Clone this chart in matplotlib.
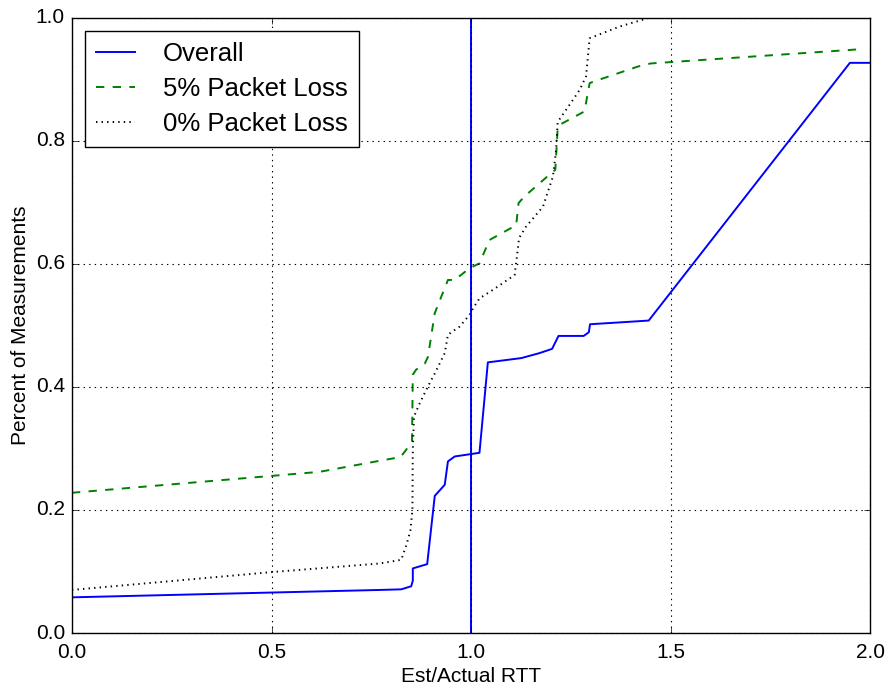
import matplotlib
matplotlib.use("Agg")
import matplotlib.pyplot as plt

plt.style.use('classic')
plt.rcParams['font.family'] = ['Liberation Sans', 'DejaVu Sans']

overall_x = [0.0, 0.771, 0.825, 0.850, 0.854, 0.854, 0.890, 0.909, 0.934, 0.942, 0.959,
             1.021, 1.042, 1.126, 1.171, 1.203, 1.219, 1.282, 1.295, 1.298, 1.397, 1.445,
             1.949, 2.0]
overall_y = [0.058, 0.070, 0.071, 0.076, 0.085, 0.105, 0.112, 0.223, 0.241, 0.279, 0.287,
             0.293, 0.440, 0.447, 0.455, 0.462, 0.483, 0.483, 0.489, 0.502, 0.506, 0.508,
             0.927, 0.927]

loss5_x = [0.0, 0.62, 0.771, 0.823, 0.834, 0.852, 0.854, 0.862, 0.884, 0.892, 0.909, 0.942,
           0.959, 0.996, 1.021, 1.046, 1.113, 1.119, 1.134, 1.196, 1.211, 1.217, 1.221,
           1.284, 1.297, 1.309, 1.418, 1.45, 1.972]
loss5_y = [0.228, 0.262, 0.280, 0.286, 0.295, 0.311, 0.420, 0.428, 0.438, 0.449, 0.520, 0.574,
           0.574, 0.593, 0.601, 0.639, 0.663, 0.699, 0.710, 0.745, 0.753, 0.821, 0.826,
           0.848, 0.894, 0.897, 0.921, 0.926, 0.949]

loss0_x = [0.0, 0.5, 0.771, 0.825, 0.838, 0.848, 0.853, 0.854, 0.857, 0.871, 0.892, 0.909,
           0.934, 0.942, 0.971, 0.996, 1.005, 1.021, 1.055, 1.109, 1.117, 1.120, 1.138,
           1.180, 1.205, 1.213, 1.217, 1.247, 1.272, 1.288, 1.297, 1.372, 1.445]
loss0_y = [0.070, 0.099, 0.113, 0.119, 0.143, 0.167, 0.200, 0.298, 0.352, 0.373, 0.401, 0.422,
           0.455, 0.485, 0.498, 0.517, 0.528, 0.544, 0.558, 0.582, 0.623, 0.642, 0.661,
           0.693, 0.742, 0.785, 0.831, 0.859, 0.883, 0.905, 0.967, 0.986, 1.0]

fig = plt.figure(figsize=(8.88, 6.9), dpi=100, facecolor='white')
ax = fig.add_axes([0.081, 0.0826, 0.899, 0.8914])

ax.plot(overall_x, overall_y, color='b', linestyle='-', linewidth=1.4, label='Overall')
ax.plot(loss5_x, loss5_y, color='g', linestyle='--', linewidth=1.4, label='5% Packet Loss')
ax.plot(loss0_x, loss0_y, color='k', linestyle=':', linewidth=1.4, label='0% Packet Loss')
ax.axvline(1.0, color='b', linewidth=1.4)

ax.set_xlim(0, 2)
ax.set_ylim(0, 1)
ax.set_xticks([0.0, 0.5, 1.0, 1.5, 2.0])
ax.set_yticks([0.0, 0.2, 0.4, 0.6, 0.8, 1.0])
ax.grid(True, color='k', linestyle=':', linewidth=0.8)
ax.tick_params(labelsize=15)
ax.tick_params(axis='x', pad=7)
ax.tick_params(axis='y', pad=5)
ax.set_xlabel('Est/Actual RTT', fontsize=15, labelpad=4)
ax.set_ylabel('Percent of Measurements', fontsize=15, labelpad=4)

leg = ax.legend(loc='upper left', fontsize=18.5, fancybox=False, numpoints=1,
                handlelength=1.5, handletextpad=1.1, labelspacing=0.42,
                borderpad=0.45, borderaxespad=0.5)
leg.get_frame().set_edgecolor('k')

fig.savefig('out.png', dpi=100, facecolor='white')
